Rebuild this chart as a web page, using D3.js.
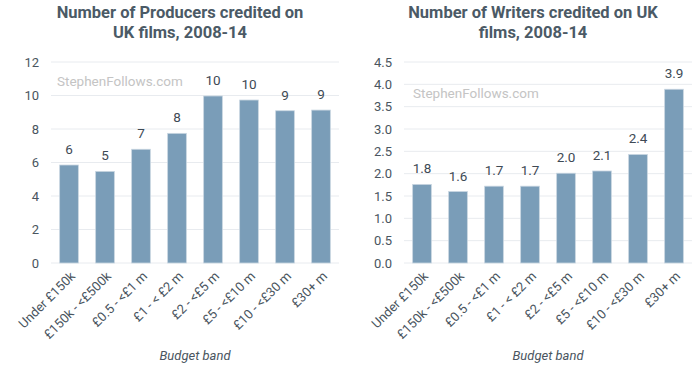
<!DOCTYPE html>
<html><head><meta charset="utf-8">
<script src="https://cdn.jsdelivr.net/npm/d3@7"></script>
<style>body{margin:0;background:#fff;}svg{display:block;font-family:Roboto,"Noto Sans",sans-serif;}</style>
</head><body><svg id="c" width="700" height="377"></svg>
<script>
const categories = ["Under £150k","£150k - <£500k","£0.5 - <£1 m","£1 - < £2 m","£2 - <£5 m","£5 - <£10 m","£10 - <£30 m","£30+ m"];
const producers = [5.85,5.47,6.79,7.74,9.97,9.73,9.09,9.13];
const writers = [1.76,1.60,1.72,1.72,2.01,2.06,2.43,3.89];
const producerTicks = [0,2,4,6,8,10,12];
const writerTicks = [0,0.5,1,1.5,2,2.5,3,3.5,4,4.5];
const titles = [["Number of Producers credited on","UK films, 2008-14"],["Number of Writers credited on UK","films, 2008-14"]];

const svg = d3.select("#c");
function chart(o){
  const g = svg.append("g");
  const x = d3.scaleBand().domain(categories).range([o.x0,o.x1]).paddingInner(0.48).paddingOuter(0.24);
  const y = d3.scaleLinear().domain([0,o.max]).range([263,62]);
  g.selectAll("line.grid").data(o.ticks).join("line")
    .attr("x1",o.x0).attr("x2",o.x1).attr("y1",d=>y(d)).attr("y2",d=>y(d))
    .attr("stroke","#e8ebef").attr("stroke-width",1);
  g.selectAll("text.yt").data(o.ticks).join("text")
    .attr("x",o.x0-12).attr("y",d=>y(d)+4.5).attr("text-anchor","end")
    .attr("font-size",13).attr("fill","#4a5560").text(d=>o.fmt(d));
  g.append("text").attr("x",o.wmx).attr("y",o.wmy).attr("font-size",13.5).attr("fill","#c4c4c4").text("StephenFollows.com");
  g.selectAll("rect").data(o.vals).join("rect")
    .attr("x",(d,i)=>x(categories[i])).attr("width",x.bandwidth())
    .attr("y",d=>y(d)).attr("height",d=>y(0)-y(d))
    .attr("fill","#7a9db8").attr("stroke","#c9d6e1").attr("stroke-width",0.8);
  g.selectAll("text.vl").data(o.vals).join("text")
    .attr("x",(d,i)=>x(categories[i])+x.bandwidth()/2).attr("y",d=>y(d)-11)
    .attr("text-anchor","middle").attr("font-size",13.5).attr("fill","#3e4a55")
    .text(d=>o.lab(d));
  g.selectAll("text.xl").data(categories).join("text")
    .attr("transform",d=>`translate(${x(d)+x.bandwidth()/2+7},${277}) rotate(-45)`)
    .attr("text-anchor","end").attr("font-size",13).attr("fill","#4a5560").text(d=>d);
  g.append("text").attr("x",(o.x0+o.x1)/2).attr("y",360).attr("text-anchor","middle")
    .attr("font-size",13).attr("font-style","italic").attr("fill","#4a5560").text("Budget band");
  g.selectAll("text.tt").data(o.title).join("text")
    .attr("x",o.tx).attr("y",(d,i)=>18+i*20).attr("text-anchor","middle")
    .attr("font-size",16.5).attr("font-weight","bold").attr("fill","#4b5a66").text(d=>d);
}
chart({x0:51,x1:339,max:12,ticks:producerTicks,vals:producers,fmt:d=>d,lab:d=>Math.round(d),wmx:57,wmy:86,title:titles[0],tx:180});
chart({x0:404,x1:692,max:4.5,ticks:writerTicks,vals:writers,fmt:d=>d.toFixed(1),lab:d=>d.toFixed(1),wmx:413,wmy:98,title:titles[1],tx:533});
</script></body></html>
